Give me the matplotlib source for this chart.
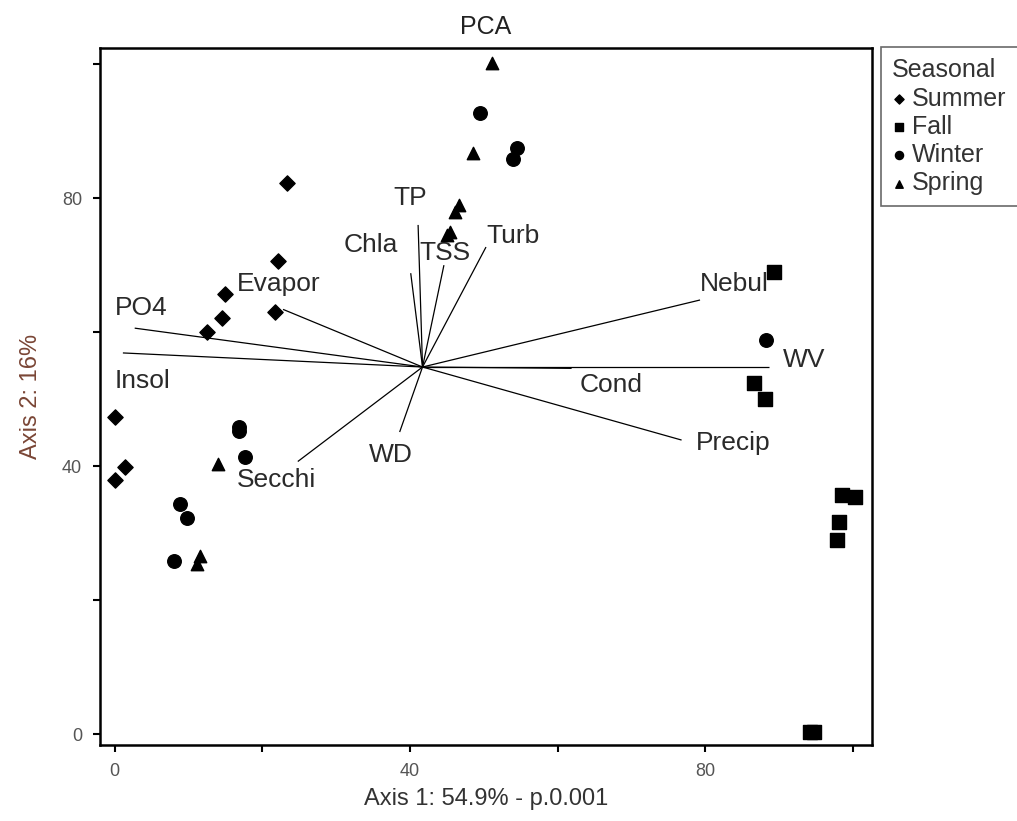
import matplotlib
matplotlib.use('Agg')
import matplotlib.pyplot as plt
import numpy as np

plt.rcParams['font.family'] = ['Liberation Sans', 'DejaVu Sans']

# sample scores
summer_x = [23.3, 22.1, 15.0, 14.5, 12.5, 21.7, 0.0, 1.35, 0.0]
summer_y = [82.2, 70.6, 65.7, 62.1, 60.0, 63.0, 47.3, 39.9, 37.9]

fall_x = [89.3, 86.6, 88.1, 98.5, 100.3, 98.1, 97.8, 94.2, 94.8]
fall_y = [69.0, 52.4, 50.0, 35.7, 35.4, 31.6, 29.0, 0.3, 0.3]

winter_x = [49.5, 54.5, 53.9, 88.3, 16.9, 16.9, 17.6, 8.8, 9.8, 8.0]
winter_y = [92.7, 87.5, 85.8, 58.8, 45.8, 45.3, 41.4, 34.3, 32.2, 25.8]

spring_x = [51.1, 48.6, 46.6, 46.1, 45.4, 45.0, 14.0, 11.5, 11.1]
spring_y = [100.1, 86.7, 79.0, 77.9, 75.0, 74.5, 40.4, 26.6, 25.4]

# biplot vectors
origin = (41.7, 54.8)
var_names = ['PO4', 'Insol', 'Evapor', 'TP', 'Chla', 'TSS', 'Turb',
             'Nebul', 'WV', 'Cond', 'Precip', 'WD', 'Secchi']
var_end_x = [2.7, 1.1, 22.8, 41.1, 40.1, 44.6, 50.3, 79.3, 88.6, 61.9, 76.8, 38.6, 24.8]
var_end_y = [60.6, 56.9, 63.4, 76.0, 68.8, 70.0, 72.7, 64.8, 54.8, 54.6, 43.9, 45.1, 40.7]
# label anchors (left edge, vertical centre)
lab_x = [0.0, 0.0, 16.5, 37.8, 31.0, 41.3, 50.3, 79.3, 90.5, 63.0, 78.8, 34.5, 16.5]
lab_y = [63.6, 52.7, 67.2, 80.0, 73.0, 71.8, 74.3, 67.2, 55.8, 52.1, 43.4, 41.6, 37.9]

fig = plt.figure(figsize=(10.17, 8.21), dpi=100)
ax = fig.add_axes([100/1017, 1-745/821, 772/1017, 697/821])

for i in range(len(var_names)):
    ax.plot([origin[0], var_end_x[i]], [origin[1], var_end_y[i]],
            color='black', lw=0.9, solid_capstyle='butt')
    ax.text(lab_x[i], lab_y[i], var_names[i], fontsize=19, color='#2a2a2a',
            ha='left', va='center')

ax.scatter(summer_x, summer_y, marker='D', s=60, color='black', label='Summer', zorder=3)
ax.scatter(fall_x, fall_y, marker='s', s=90, color='black', label='Fall', zorder=3)
ax.scatter(winter_x, winter_y, marker='o', s=95, color='black', label='Winter', zorder=3)
ax.scatter(spring_x, spring_y, marker='^', s=80, color='black', label='Spring', zorder=3)

ax.set_xlim(-2.0, 102.6)
ax.set_ylim(-1.6, 102.4)
ax.set_xticks([0, 20, 40, 60, 80, 100])
ax.set_xticklabels(['0', '', '40', '', '80', ''])
ax.set_yticks([0, 20, 40, 60, 80, 100])
ax.set_yticklabels(['0', '', '40', '', '80', ''])
ax.tick_params(direction='out', length=5, width=1.5, labelsize=13,
               labelcolor='#555555', pad=8)
for sp in ax.spines.values():
    sp.set_linewidth(1.8)

ax.set_title('PCA', fontsize=18, color='#222222', pad=10)
ax.set_xlabel('Axis 1: 54.9% - p.0.001', fontsize=17, color='#333333')
ax.xaxis.set_label_coords(0.5, -0.062)
ax.set_ylabel('Axis 2: 16%', fontsize=17, color='#7a4636')
ax.yaxis.set_label_coords(-0.075, 0.5)

leg = ax.legend(title='Seasonal', loc='upper left',
                bbox_to_anchor=(881/1017, 1-47/821), bbox_transform=fig.transFigure,
                fontsize=18, title_fontsize=18, frameon=True, fancybox=False,
                edgecolor='#444444', handlelength=0.5, handletextpad=0.3,
                labelspacing=0.17, borderpad=0.45, borderaxespad=0,
                markerscale=0.6)
leg.get_frame().set_linewidth(1.2)
leg._legend_box.align = 'left'
for t in leg.get_texts():
    t.set_color('#333333')
leg.get_title().set_color('#333333')

fig.savefig('out.png', dpi=100)
